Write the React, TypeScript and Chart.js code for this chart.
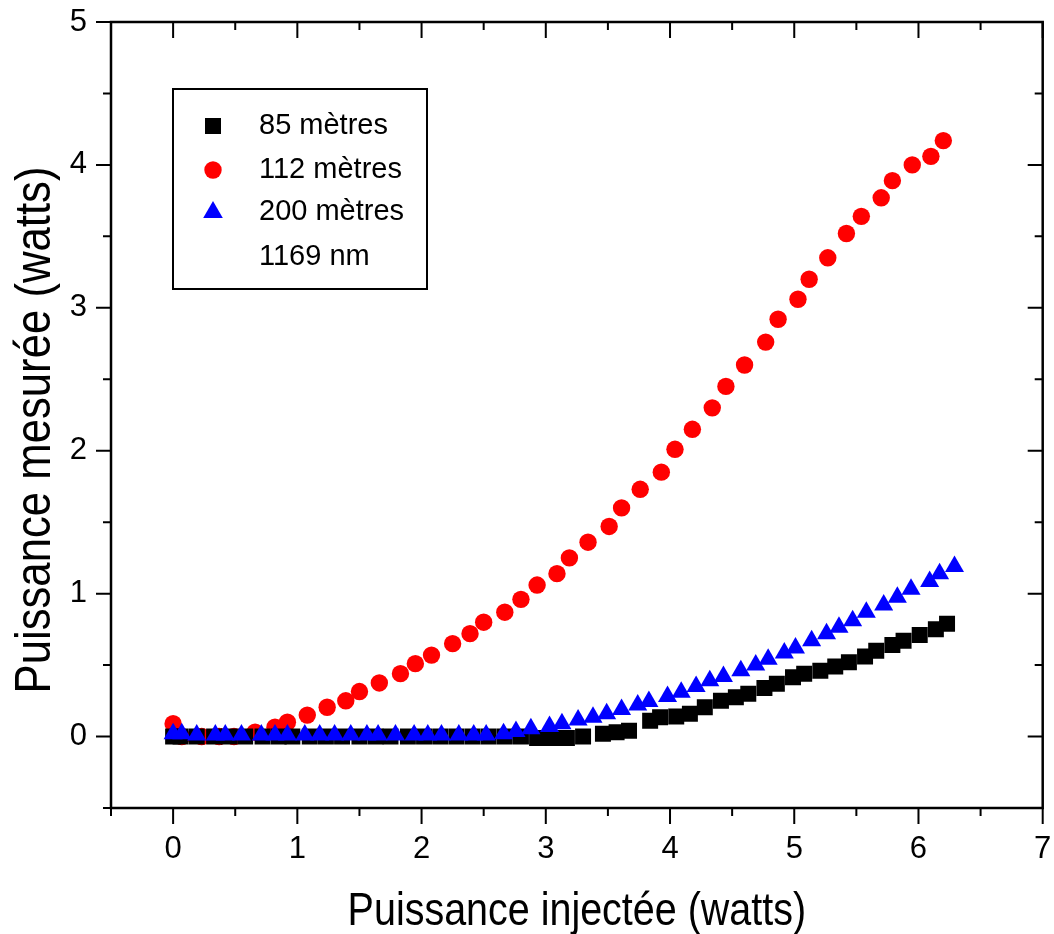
import React, { useEffect, useRef } from 'react';
import { Chart, registerables } from 'chart.js';

Chart.register(...registerables);

// ---- data ----
const x85 = [0.00, 0.06, 0.19, 0.33, 0.45, 0.58, 0.72, 0.85, 0.96, 1.10, 1.23, 1.36, 1.50, 1.63, 1.75, 1.89, 2.02, 2.15, 2.28, 2.41, 2.54, 2.67, 2.80, 2.93,
  3.05, 3.17, 3.30, 3.46, 3.57, 3.67, 3.84, 3.92, 4.05, 4.16, 4.28, 4.41, 4.53, 4.63, 4.76, 4.86, 4.99, 5.08, 5.21, 5.33, 5.44, 5.57, 5.66, 5.79, 5.88, 6.01, 6.14, 6.23];
const y85 = [0.00, 0.00, 0.00, 0.00, 0.00, 0.00, 0.00, 0.00, 0.00, 0.00, 0.00, 0.00, 0.00, 0.00, 0.00, 0.00, 0.00, 0.00, 0.00, 0.00, 0.00, 0.00, 0.00, -0.01,
  -0.01, -0.01, 0.00, 0.02, 0.03, 0.04, 0.11, 0.135, 0.14, 0.16, 0.205, 0.25, 0.275, 0.30, 0.34, 0.37, 0.415, 0.44, 0.46, 0.49, 0.52, 0.56, 0.60, 0.64, 0.67, 0.71, 0.75, 0.79];

const x112 = [0.00, 0.07, 0.23, 0.37, 0.49, 0.66, 0.82, 0.92, 1.08, 1.24, 1.39, 1.50, 1.66, 1.83, 1.95, 2.08, 2.25, 2.39, 2.50, 2.67, 2.80, 2.93, 3.09, 3.19,
  3.34, 3.51, 3.61, 3.76, 3.93, 4.04, 4.18, 4.34, 4.45, 4.60, 4.77, 4.87, 5.03, 5.12, 5.27, 5.42, 5.54, 5.70, 5.79, 5.95, 6.10, 6.20];
const y112 = [0.09, 0.00, 0.00, 0.00, 0.00, 0.03, 0.065, 0.10, 0.15, 0.205, 0.25, 0.315, 0.375, 0.44, 0.51, 0.57, 0.65, 0.72, 0.80, 0.87, 0.96, 1.06, 1.14, 1.25,
  1.36, 1.47, 1.60, 1.73, 1.85, 2.01, 2.15, 2.30, 2.45, 2.60, 2.76, 2.92, 3.06, 3.20, 3.35, 3.52, 3.64, 3.77, 3.89, 4.00, 4.06, 4.17];

const x200 = [0.00, 0.07, 0.19, 0.34, 0.42, 0.55, 0.71, 0.82, 0.92, 1.06, 1.18, 1.30, 1.43, 1.56, 1.65, 1.79, 1.94, 2.05, 2.16, 2.30, 2.42, 2.52,
  2.66, 2.76, 2.88, 3.03, 3.13, 3.26, 3.38, 3.49, 3.61, 3.74, 3.83, 3.98, 4.09, 4.21, 4.32, 4.43, 4.57, 4.69, 4.79, 4.92, 5.01, 5.14, 5.26, 5.36, 5.47, 5.58, 5.72, 5.83, 5.94, 6.09, 6.17, 6.29];
const y200 = [0.02, 0.02, 0.01, 0.01, 0.01, 0.01, 0.01, 0.01, 0.01, 0.01, 0.01, 0.01, 0.01, 0.01, 0.01, 0.01, 0.01, 0.01, 0.01, 0.01, 0.01, 0.01,
  0.02, 0.035, 0.055, 0.07, 0.09, 0.115, 0.135, 0.16, 0.19, 0.22, 0.245, 0.28, 0.31, 0.35, 0.39, 0.42, 0.46, 0.50, 0.54, 0.585, 0.62, 0.67, 0.72, 0.765, 0.81, 0.87, 0.92, 0.975, 1.03, 1.085, 1.14, 1.19];

const xTickValues = [0, 1, 2, 3, 4, 5, 6, 7];
const yTickValues = [0, 1, 2, 3, 4, 5];
const seriesLabels = ['85 mètres', '112 mètres', '200 mètres'];
const legendNote = '1169 nm';
const xTitle = 'Puissance injectée (watts)';
const yTitle = 'Puissance mesurée (watts)';

const FONT = "'Liberation Sans', Arial, sans-serif";

const pts = (xs: number[], ys: number[]) => xs.map((x, i) => ({ x, y: ys[i] }));

const framePlugin = {
  id: 'frame',
  afterDraw(chart: any) {
    const { ctx, chartArea: a, scales } = chart;
    const xs = scales.x;
    const ys = scales.y;
    ctx.save();
    ctx.strokeStyle = '#000';
    ctx.lineWidth = 2.5;
    ctx.strokeRect(a.left, a.top, a.right - a.left, a.bottom - a.top);
    ctx.lineWidth = 2;
    ctx.beginPath();
    for (let v = xs.min; v <= xs.max + 1e-9; v += 0.5) {
      const p = xs.getPixelForValue(v);
      const major = Math.abs(v - Math.round(v)) < 1e-6;
      const L = major ? 16 : 8;
      ctx.moveTo(p, a.bottom);
      ctx.lineTo(p, a.bottom + L);
      ctx.moveTo(p, a.top);
      ctx.lineTo(p, a.top + L);
    }
    for (let v = ys.min; v <= ys.max + 1e-9; v += 0.5) {
      const p = ys.getPixelForValue(v);
      const major = Math.abs(v - Math.round(v)) < 1e-6;
      const L = major ? 15 : 8;
      ctx.moveTo(a.left, p);
      ctx.lineTo(a.left - L, p);
      ctx.moveTo(a.right, p);
      ctx.lineTo(a.right - L, p);
    }
    ctx.stroke();

    // axis titles (condensed sans, like the original)
    ctx.fillStyle = '#000';
    ctx.textAlign = 'center';
    ctx.textBaseline = 'alphabetic';
    ctx.font = `46px ${FONT}`;
    ctx.save();
    ctx.translate((a.left + a.right) / 2, 925);
    ctx.scale(0.858, 1);
    ctx.fillText(xTitle, 0, 0);
    ctx.restore();
    ctx.font = `50px ${FONT}`;
    ctx.save();
    ctx.translate(50, (a.top + a.bottom) / 2 + 15);
    ctx.rotate(-Math.PI / 2);
    ctx.scale(0.874, 1);
    ctx.fillText(yTitle, 0, 0);
    ctx.restore();
    ctx.restore();
  },
};

const legendPlugin = {
  id: 'boxLegend',
  afterDraw(chart: any) {
    const { ctx, chartArea: a } = chart;
    const bx = a.left + 62;
    const by = a.top + 67;
    const bw = 254;
    const bh = 200;
    ctx.save();
    ctx.fillStyle = '#fff';
    ctx.fillRect(bx, by, bw, bh);
    ctx.strokeStyle = '#000';
    ctx.lineWidth = 2;
    ctx.strokeRect(bx, by, bw, bh);
    const sx = bx + 40;
    const tx = bx + 86;
    const rows = [by + 37, by + 81, by + 123, by + 168];
    const ds = chart.data.datasets;
    ctx.font = `29px ${FONT}`;
    ctx.textBaseline = 'middle';
    ctx.textAlign = 'left';
    for (let i = 0; i < 3; i++) {
      const cy = rows[i];
      const d = ds[i];
      ctx.fillStyle = d.backgroundColor;
      ctx.beginPath();
      if (d.pointStyle === 'rect') {
        ctx.rect(sx - 8, cy - 8, 16, 16);
      } else if (d.pointStyle === 'circle') {
        ctx.arc(sx, cy, 8.7, 0, Math.PI * 2);
      } else {
        ctx.moveTo(sx, cy - 11);
        ctx.lineTo(sx + 9.8, cy + 6);
        ctx.lineTo(sx - 9.8, cy + 6);
        ctx.closePath();
      }
      ctx.fill();
      ctx.fillStyle = '#000';
      ctx.fillText(d.label, tx, cy);
    }
    ctx.fillStyle = '#000';
    ctx.fillText(legendNote, tx, rows[3]);
    ctx.restore();
  },
};

export default function App() {
  const ref = useRef<HTMLCanvasElement | null>(null);
  useEffect(() => {
    if (!ref.current) return;
    const chart = new Chart(ref.current, {
      type: 'scatter',
      data: {
        datasets: [
          { label: seriesLabels[0], data: pts(x85, y85), pointStyle: 'rect', pointRadius: 11.3, backgroundColor: '#000000', borderColor: '#000000', borderWidth: 0, order: 1 },
          { label: seriesLabels[1], data: pts(x112, y112), pointStyle: 'circle', pointRadius: 8.7, backgroundColor: '#ff0000', borderColor: '#ff0000', borderWidth: 0, order: 2 },
          { label: seriesLabels[2], data: pts(x200, y200), pointStyle: 'triangle', pointRadius: 11, backgroundColor: '#0000ff', borderColor: '#0000ff', borderWidth: 0, order: 0 },
        ],
      } as any,
      options: {
        animation: false,
        responsive: false,
        devicePixelRatio: 1,
        layout: { padding: { top: 22, right: 6, left: 0, bottom: 0 } },
        plugins: { legend: { display: false }, tooltip: { enabled: false } },
        scales: {
          x: {
            type: 'linear',
            min: -0.5,
            max: 7,
            grid: { display: false },
            border: { display: false },
            afterBuildTicks: (s: any) => { s.ticks = xTickValues.map((v) => ({ value: v })); },
            ticks: {
              padding: 15,
              color: '#000',
              autoSkip: false,
              maxRotation: 0,
              font: { family: FONT, size: 31 },
              callback: (v: any) => String(v),
            },
            title: { display: false },
            afterFit: (s: any) => { s.height = 126; s.paddingLeft = 0; s.paddingRight = 0; },
          },
          y: {
            type: 'linear',
            min: -0.5,
            max: 5,
            grid: { display: false },
            border: { display: false },
            afterBuildTicks: (s: any) => { s.ticks = yTickValues.map((v) => ({ value: v })); },
            ticks: {
              padding: 16,
              color: '#000',
              autoSkip: false,
              font: { family: FONT, size: 31 },
              callback: (v: any) => String(v),
            },
            title: { display: false },
            afterFit: (s: any) => { s.width = 111; s.paddingTop = 0; s.paddingBottom = 0; },
          },
        },
      } as any,
      plugins: [framePlugin, legendPlugin],
    });
    return () => chart.destroy();
  }, []);
  return (
    <div style={{ position: 'absolute', left: 0, top: 0, width: 1054, height: 934, background: '#fff' }}>
      <canvas ref={ref} width={1054} height={934} />
    </div>
  );
}
